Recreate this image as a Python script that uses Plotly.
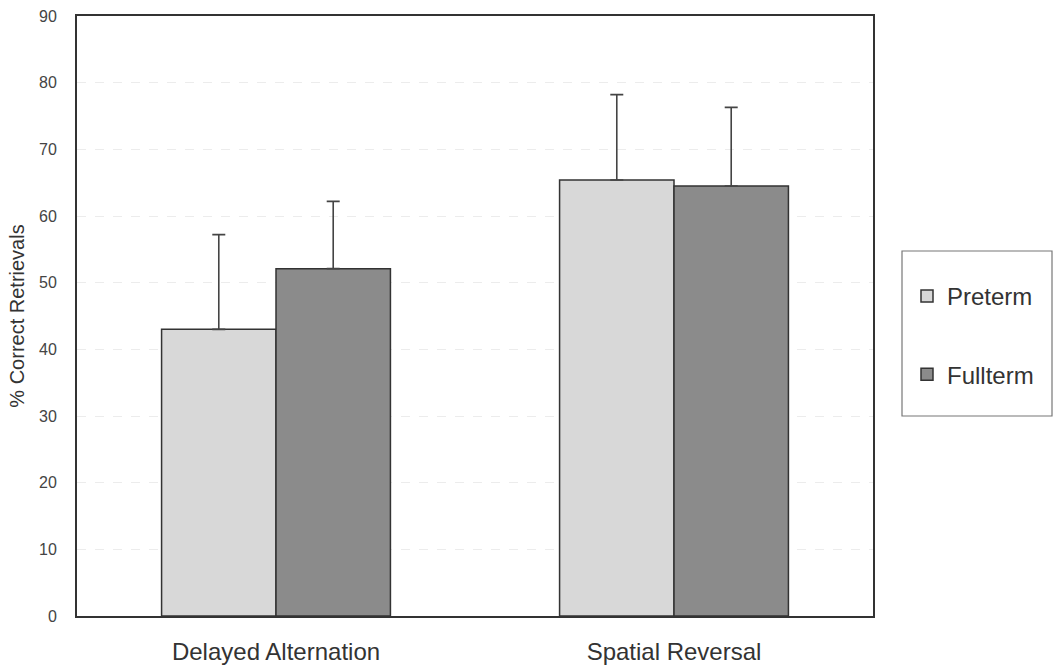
import plotly.graph_objects as go

categories = ["Delayed Alternation", "Spatial Reversal"]
preterm = [43.0, 65.4]
preterm_err = [14.2, 12.8]
fullterm = [52.1, 64.5]
fullterm_err = [10.1, 11.8]
y_ticks = [0, 10, 20, 30, 40, 50, 60, 70, 80, 90]

fig = go.Figure()
fig.add_trace(go.Bar(
    name="Preterm", x=categories, y=preterm,
    error_y=dict(type="data", array=preterm_err, arrayminus=[0, 0], symmetric=False,
                 color="#444444", thickness=1.6, width=6.5),
    marker=dict(color="#d8d8d8", line=dict(color="#333333", width=1.5)),
    legendgroup="a",
))
fig.add_trace(go.Bar(
    name="Fullterm", x=categories, y=fullterm,
    error_y=dict(type="data", array=fullterm_err, arrayminus=[0, 0], symmetric=False,
                 color="#444444", thickness=1.6, width=6.5),
    marker=dict(color="#8b8b8b", line=dict(color="#333333", width=1.5)),
    legendgroup="b",
))

fig.update_layout(
    width=1055, height=666,
    margin=dict(l=77, r=182, t=16, b=50, autoexpand=False),
    paper_bgcolor="white", plot_bgcolor="white",
    barmode="group", bargap=0.425, bargroupgap=0,
    font=dict(family="Liberation Sans, Arial, sans-serif", color="#333333"),
    showlegend=True,
    legend=dict(xref="container", yref="container",
                x=907 / 1055, y=1 - 274 / 666, xanchor="left", yanchor="top",
                font=dict(size=24, color="#333333"),
                bgcolor="rgba(0,0,0,0)", borderwidth=0,
                tracegroupgap=44, itemwidth=30),
    shapes=[dict(type="rect", xref="paper", yref="paper",
                 x0=(902 - 77) / 796, x1=(1052 - 77) / 796,
                 y0=(616 - 416) / 600, y1=(616 - 251) / 600,
                 line=dict(color="#777777", width=1.2))],
)
fig.update_xaxes(
    showline=True, linecolor="#333333", linewidth=2, mirror=True, automargin=False,
    tickfont=dict(size=24, color="#333333"), ticks="", ticklabelstandoff=13,
)
fig.update_yaxes(
    range=[0, 90], tickvals=y_ticks, automargin=False,
    showline=True, linecolor="#333333", linewidth=2, mirror=True,
    showgrid=True, gridcolor="#ececec", gridwidth=1, griddash="dash",
    tickfont=dict(size=16, color="#444444"), ticks="", ticklabelstandoff=15,
    title=dict(text="% Correct Retrievals", font=dict(size=20, color="#333333"), standoff=9),
    zeroline=False,
)

fig.write_html(
    "out.html",
    config={"displayModeBar": False},
    post_script="document.body.style.margin='0';document.body.style.overflow='hidden';",
)
